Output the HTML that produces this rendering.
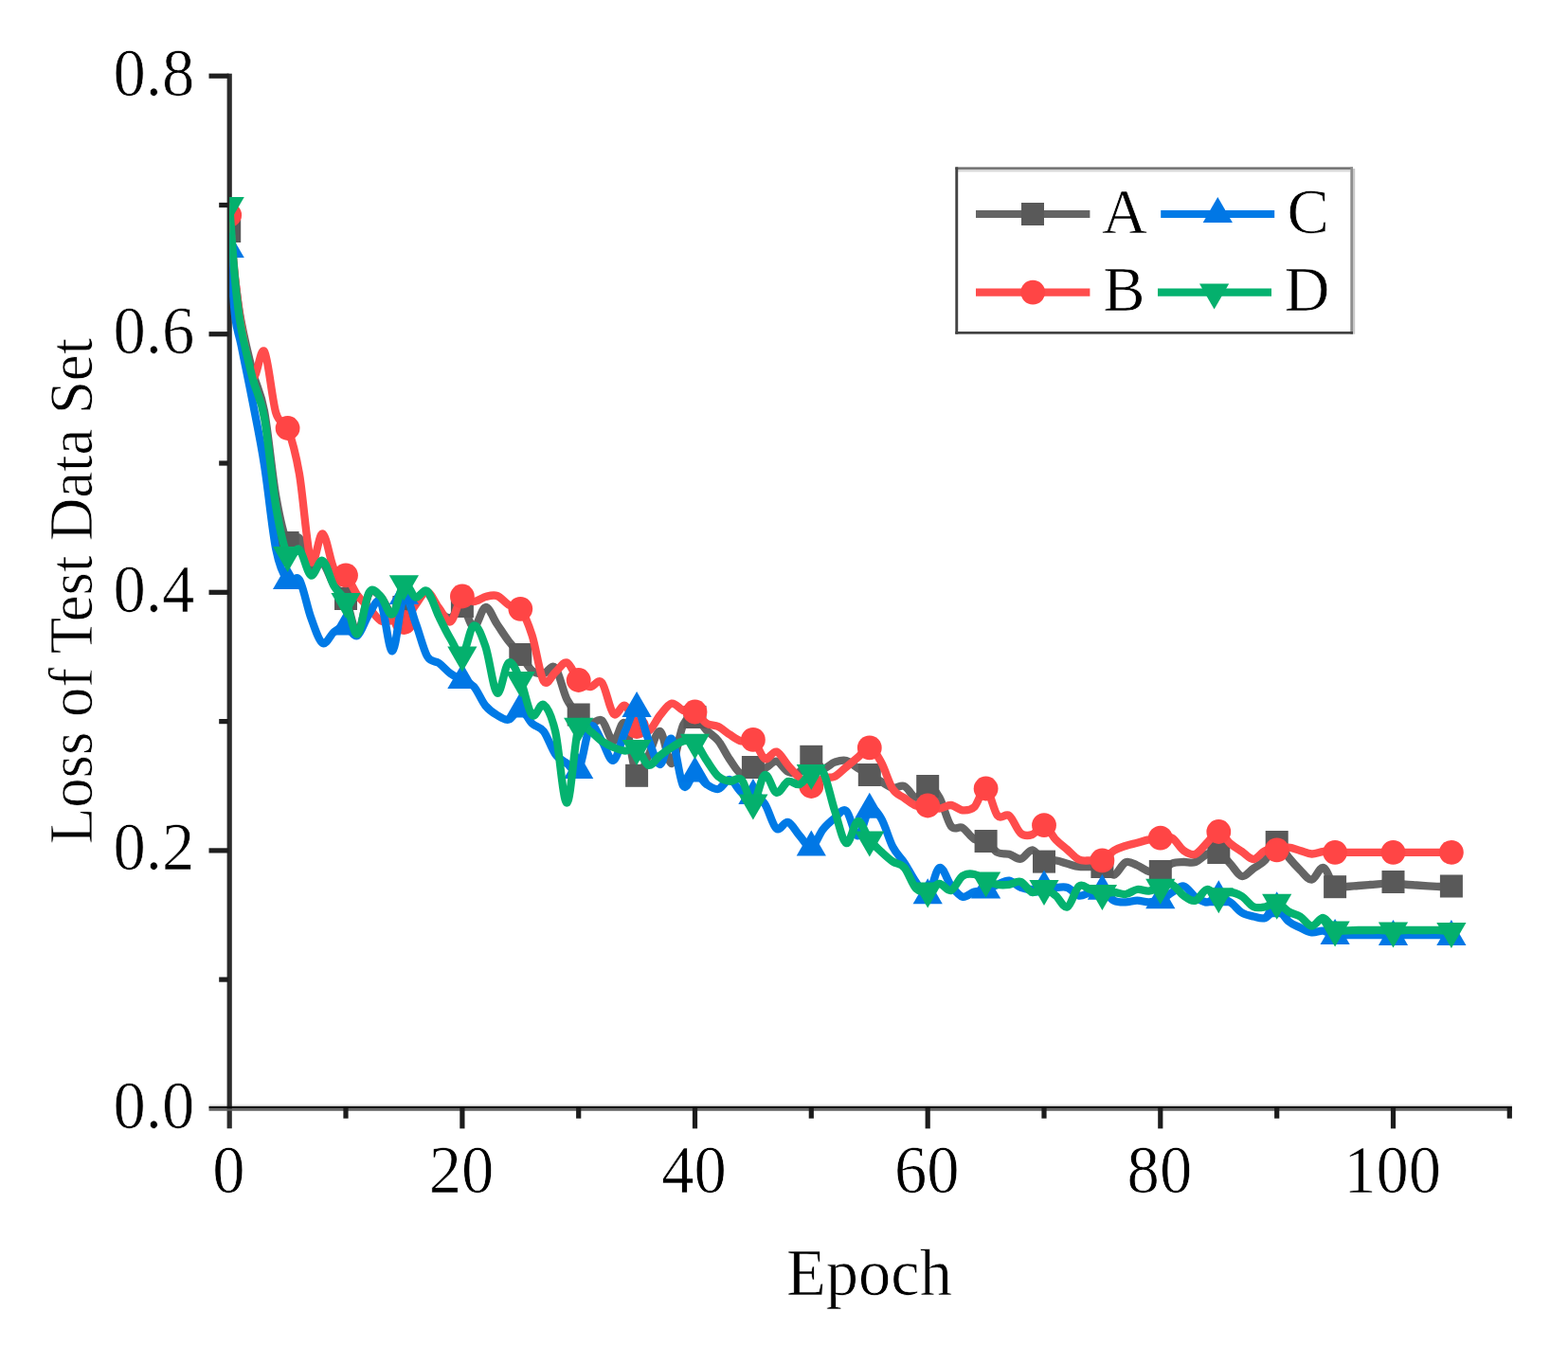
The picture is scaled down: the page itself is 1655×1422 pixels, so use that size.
<!DOCTYPE html><html><head><meta charset="utf-8"><title>Loss of Test Data Set</title>
<style>html,body{margin:0;padding:0;background:#fff}body{width:1655px;height:1422px;overflow:hidden}svg{display:block}text{font-family:"Liberation Serif",serif;fill:#000;stroke:#fff;stroke-width:0.7px;paint-order:fill stroke}</style></head><body>
<svg width="1655" height="1422" viewBox="0 0 1655 1422">
<rect width="1655" height="1422" fill="#fff"/>
<g fill="#2b2b2b">
<rect x="220.5" y="1165.6" width="1375.4" height="2.2" fill="#ededed"/>
<rect x="239.6" y="77.7" width="5.2" height="1113.6"/>
<rect x="220.5" y="1167.8" width="1375.4" height="2.6" fill="#0a0a0a"/>
<rect x="220.5" y="1170.4" width="1375.4" height="2.3" fill="#5c5c5c"/>
<rect x="231.2" y="1031.5" width="10" height="5.2" fill="#1e1e1e"/>
<rect x="220.5" y="895.3" width="21" height="5.2" fill="#1e1e1e"/>
<rect x="231.2" y="759" width="10" height="5.2" fill="#1e1e1e"/>
<rect x="220.5" y="622.7" width="21" height="5.2" fill="#1e1e1e"/>
<rect x="231.2" y="486.4" width="10" height="5.2" fill="#1e1e1e"/>
<rect x="220.5" y="350.1" width="21" height="5.2" fill="#1e1e1e"/>
<rect x="231.2" y="213.9" width="10" height="5.2" fill="#1e1e1e"/>
<rect x="220.5" y="77.6" width="21" height="5.2" fill="#1e1e1e"/>
<rect x="362.4" y="1170" width="5.2" height="10.7" fill="#1c1c1c"/>
<rect x="485.3" y="1170" width="5.2" height="21.4" fill="#1c1c1c"/>
<rect x="608.1" y="1170" width="5.2" height="10.7" fill="#1c1c1c"/>
<rect x="730.9" y="1170" width="5.2" height="21.4" fill="#1c1c1c"/>
<rect x="853.7" y="1170" width="5.2" height="10.7" fill="#1c1c1c"/>
<rect x="976.6" y="1170" width="5.2" height="21.4" fill="#1c1c1c"/>
<rect x="1099.4" y="1170" width="5.2" height="10.7" fill="#1c1c1c"/>
<rect x="1222.2" y="1170" width="5.2" height="21.4" fill="#1c1c1c"/>
<rect x="1345.1" y="1170" width="5.2" height="10.7" fill="#1c1c1c"/>
<rect x="1467.9" y="1170" width="5.2" height="21.4" fill="#1c1c1c"/>
<rect x="1590.7" y="1170" width="5.2" height="10.7" fill="#1c1c1c"/>
</g>
<svg x="242.2" y="60" width="1360" height="1110" viewBox="242.2 60 1360 1110" overflow="hidden">
<g><path d="M242.2 244C243.2 252.7 246.3 280.2 248.3 296C250.4 311.8 251.4 322.8 254.5 339C257.6 355.2 262.7 377.2 266.8 393C270.9 408.8 275 412.2 279 434C283.1 455.8 287.2 500.8 291.3 524C295.4 547.2 299.5 565.7 303.6 573C307.7 580.3 311.8 564 315.9 568C320 572 324.1 592.7 328.2 597C332.3 601.3 336.4 590.5 340.5 594C344.6 597.5 348.7 611.7 352.7 618C356.8 624.3 360.9 623.7 365 632C369.1 640.3 373.2 668.9 377.3 668C381.4 667.1 385.5 632.8 389.6 626.5C393.7 620.2 397.8 626.2 401.9 630C406 633.8 410.1 647.2 414.2 649C418.3 650.8 422.4 643.8 426.4 641C430.5 638.2 434.6 634.5 438.7 632C442.8 629.5 446.9 623.8 451 626C455.1 628.2 459.2 640.7 463.3 645C467.4 649.3 471.5 652.8 475.6 652C479.7 651.2 483.8 638.3 487.9 640C492 641.7 496 661.8 500.1 662C504.2 662.2 508.3 641.5 512.4 641C516.5 640.5 520.6 653 524.7 659C528.8 665 532.9 671.7 537 677C541.1 682.3 545.2 685.8 549.3 691C553.4 696.2 557.5 704.7 561.6 708C565.7 711.3 569.7 711.5 573.8 711C577.9 710.5 582 700.4 586.1 705C590.2 709.6 594.3 730.1 598.4 738.4C602.5 746.6 606.6 750.3 610.7 754.5C614.8 758.7 618.9 762.8 623 763.8C627.1 764.8 631.2 757.4 635.3 760.5C639.4 763.6 643.4 781.9 647.5 782.4C651.6 782.9 655.7 757.7 659.8 763.8C663.9 769.9 668 813.2 672.1 818.8C676.2 824.4 680.3 805.4 684.4 797.6C688.5 789.8 692.6 770.6 696.7 772C700.8 773.4 704.9 807.2 709 806C713 804.8 717.1 773.2 721.2 765C725.3 756.8 729.4 756 733.5 757C737.6 758 741.7 766.8 745.8 771C749.9 775.2 754 776.8 758.1 782C762.2 787.2 766.3 796.2 770.4 802C774.5 807.8 778.6 815.7 782.7 817C786.7 818.3 790.8 811 794.9 810C799 809 803.1 812 807.2 811C811.3 810 815.4 803.1 819.5 803.7C823.6 804.3 827.7 812.9 831.8 814.7C835.9 816.5 840 817.4 844.1 814.7C848.2 812.1 852.3 799.4 856.3 798.8C860.4 798.2 864.5 810 868.6 811C872.7 812 876.8 805.9 880.9 804.6C885 803.3 889.1 801.9 893.2 803C897.3 804.1 901.4 808.5 905.5 811C909.6 813.5 913.7 815.7 917.8 818C921.9 820.3 926 822.7 930 825C934.1 827.3 938.2 830.9 942.3 831.7C946.4 832.5 950.5 828.3 954.6 830C958.7 831.7 962.8 841.8 966.9 841.8C971 841.8 975.1 830 979.2 830C983.3 830 987.4 834.8 991.5 841.8C995.6 848.8 999.7 866.6 1003.7 872C1007.8 877.4 1011.9 871.7 1016 874C1020.1 876.3 1024.2 883.5 1028.3 885.8C1032.4 888.1 1036.5 885.6 1040.6 888C1044.7 890.4 1048.8 897.7 1052.9 900C1057 902.3 1061.1 900.6 1065.2 901.7C1069.3 902.8 1073.3 907.4 1077.4 906.7C1081.5 906 1085.6 896.9 1089.7 897.4C1093.8 897.9 1097.9 907.8 1102 909.6C1106.1 911.4 1110.2 908 1114.3 908.4C1118.4 908.8 1122.5 910.7 1126.6 911.8C1130.7 912.9 1134.8 914.5 1138.9 915C1143 915.5 1147 915 1151.1 915C1155.2 915 1159.3 913.6 1163.4 915C1167.5 916.4 1171.6 924.4 1175.7 923.6C1179.8 922.8 1183.9 912 1188 910.3C1192.1 908.6 1196.2 911.9 1200.3 913.5C1204.4 915.1 1208.5 918.9 1212.6 920C1216.7 921.1 1220.7 921.4 1224.8 920C1228.9 918.6 1233 913.2 1237.1 911.5C1241.2 909.8 1245.3 910.2 1249.4 910C1253.5 909.8 1257.6 911.4 1261.7 910C1265.8 908.6 1269.9 903.4 1274 901.7C1278.1 900 1282.2 898.3 1286.3 900C1290.3 901.7 1294.4 907.6 1298.5 911.8C1302.6 916 1306.7 924.2 1310.8 925C1314.9 925.8 1319 919.5 1323.1 916.7C1327.2 913.9 1331.3 912.6 1335.4 908C1339.5 903.4 1343.6 889.5 1347.7 889C1351.8 888.5 1355.9 900.1 1360 905C1364 909.9 1368.1 914.5 1372.2 918.4C1376.3 922.3 1380.4 929 1384.5 928.6C1388.6 928.2 1392.7 914.7 1396.8 916C1400.9 917.3 1405 932.9 1409.1 936.2C1413.2 939.5 1417.3 936.2 1421.4 936C1425.5 935.8 1429.6 935.3 1433.7 935C1437.7 934.7 1441.8 934.3 1445.9 934C1450 933.7 1454.1 933.5 1458.2 933C1462.3 932.5 1466.4 930.9 1470.5 931C1474.6 931.1 1478.7 933 1482.8 933.6C1486.9 934.2 1491 934.2 1495.1 934.5C1499.2 934.8 1503.3 935 1507.3 935.3C1511.4 935.5 1515.5 936 1519.6 936C1523.7 936 1529.9 935.6 1531.9 935.5" fill="none" stroke="#646464" stroke-width="8.3" stroke-linejoin="round" stroke-linecap="butt"/><rect x="230.2" y="232" width="24" height="24" fill="#595959"/><rect x="291.6" y="561" width="24" height="24" fill="#595959"/><rect x="353" y="620" width="24" height="24" fill="#595959"/><rect x="414.4" y="629" width="24" height="24" fill="#595959"/><rect x="475.9" y="628" width="24" height="24" fill="#595959"/><rect x="537.3" y="679" width="24" height="24" fill="#595959"/><rect x="598.7" y="742.5" width="24" height="24" fill="#595959"/><rect x="660.1" y="806.8" width="24" height="24" fill="#595959"/><rect x="721.5" y="745" width="24" height="24" fill="#595959"/><rect x="782.9" y="798" width="24" height="24" fill="#595959"/><rect x="844.3" y="786.8" width="24" height="24" fill="#595959"/><rect x="905.8" y="806" width="24" height="24" fill="#595959"/><rect x="967.2" y="818" width="24" height="24" fill="#595959"/><rect x="1028.6" y="876" width="24" height="24" fill="#595959"/><rect x="1090" y="897.6" width="24" height="24" fill="#595959"/><rect x="1151.4" y="903" width="24" height="24" fill="#595959"/><rect x="1212.8" y="908" width="24" height="24" fill="#595959"/><rect x="1274.3" y="888" width="24" height="24" fill="#595959"/><rect x="1335.7" y="877" width="24" height="24" fill="#595959"/><rect x="1397.1" y="924.2" width="24" height="24" fill="#595959"/><rect x="1458.5" y="919" width="24" height="24" fill="#595959"/><rect x="1519.9" y="923.5" width="24" height="24" fill="#595959"/></g>
<g><path d="M242.2 227C243.2 238.3 246.3 275.8 248.3 295C250.4 314.2 251.4 324.8 254.5 342C257.6 359.2 262.7 393.2 266.8 398C270.9 402.8 275 364.7 279 371C283.1 377.3 287.2 422.5 291.3 436C295.4 449.5 299.5 441.3 303.6 452C307.7 462.7 311.8 476.7 315.9 500C320 523.3 324.1 581.4 328.2 592C332.3 602.6 336.4 561.9 340.5 563.4C344.6 564.9 348.7 593.7 352.7 601C356.8 608.3 360.9 602.9 365 607.4C369.1 611.9 373.2 622.6 377.3 628.3C381.4 634 385.5 637.3 389.6 641.8C393.7 646.3 397.8 653 401.9 655.3C406 657.5 410.1 655 414.2 655.3C418.3 655.6 422.4 659.8 426.4 657C430.5 654.2 434.6 643.8 438.7 638.4C442.8 633 446.9 624.3 451 624.9C455.1 625.5 459.2 636.6 463.3 641.8C467.4 647 471.5 658.2 475.6 656.2C479.7 654.2 483.8 633 487.9 629.5C492 626 496 634.9 500.1 635C504.2 635.1 508.3 631 512.4 630C516.5 629 520.6 627.6 524.7 629C528.8 630.4 532.9 636.3 537 638.6C541.1 640.9 545.2 637.4 549.3 642.8C553.4 648.2 557.5 658.1 561.6 670.8C565.7 683.5 569.7 712.5 573.8 719C577.9 725.5 582 713 586.1 709.7C590.2 706.5 594.3 698.1 598.4 699.5C602.5 700.9 606.6 713.8 610.7 718C614.8 722.2 618.9 724.6 623 725C627.1 725.4 631.2 715.8 635.3 720.6C639.4 725.4 643.4 749.5 647.5 753.6C651.6 757.7 655.7 742.8 659.8 745C663.9 747.2 668 762.5 672.1 767C676.2 771.5 680.3 774 684.4 772C688.5 770 692.6 759.9 696.7 755C700.8 750.1 704.9 743.4 709 742.6C713 741.8 717.1 748.5 721.2 750C725.3 751.5 729.4 749.2 733.5 751.5C737.6 753.8 741.7 761.2 745.8 763.8C749.9 766.4 754 765 758.1 767C762.2 769 766.3 773 770.4 775.6C774.5 778.2 778.6 781.5 782.7 782.4C786.7 783.3 790.8 777.8 794.9 780.9C799 784 803.1 798.9 807.2 801C811.3 803.1 815.4 792.4 819.5 793.6C823.6 794.8 827.7 803.4 831.8 808C835.9 812.6 840 817.8 844.1 821.5C848.2 825.2 852.3 830 856.3 830C860.4 830 864.5 823.2 868.6 821.5C872.7 819.8 876.8 821.8 880.9 819.8C885 817.8 889.1 813.1 893.2 809.7C897.3 806.3 901.4 802.9 905.5 799.5C909.6 796.1 913.7 788.5 917.8 789.4C921.9 790.2 926 797.3 930 804.6C934.1 811.9 938.2 826.7 942.3 833C946.4 839.3 950.5 839.6 954.6 842.5C958.7 845.4 962.8 849.2 966.9 850.5C971 851.8 975.1 850 979.2 850.5C983.3 851 987.4 853.7 991.5 853.6C995.6 853.5 999.7 849.7 1003.7 850C1007.8 850.3 1011.9 855 1016 855.3C1020.1 855.6 1024.2 855.8 1028.3 852C1032.4 848.2 1036.5 831 1040.6 832.5C1044.7 834 1048.8 856.2 1052.9 861C1057 865.8 1061.1 857.9 1065.2 861C1069.3 864.1 1073.3 876.4 1077.4 879.7C1081.5 883 1085.6 882.4 1089.7 881C1093.8 879.6 1097.9 870.3 1102 871.2C1106.1 872.1 1110.2 882.1 1114.3 886.4C1118.4 890.7 1122.5 893.5 1126.6 897C1130.7 900.5 1134.8 905.6 1138.9 907.5C1143 909.4 1147 908.2 1151.1 908.4C1155.2 908.5 1159.3 910.1 1163.4 908.4C1167.5 906.7 1171.6 900.6 1175.7 898C1179.8 895.4 1183.9 894.4 1188 893C1192.1 891.6 1196.2 890.9 1200.3 889.8C1204.4 888.7 1208.5 887.2 1212.6 886.4C1216.7 885.5 1220.7 885 1224.8 884.7C1228.9 884.4 1233 882.5 1237.1 884.7C1241.2 886.9 1245.3 895.2 1249.4 898C1253.5 900.8 1257.6 903.1 1261.7 901.7C1265.8 900.3 1269.9 893.8 1274 889.8C1278.1 885.8 1282.2 877.9 1286.3 878C1290.3 878.1 1294.4 887 1298.5 890.5C1302.6 894 1306.7 896.2 1310.8 899C1314.9 901.8 1319 907.2 1323.1 907C1327.2 906.8 1331.3 899.6 1335.4 898C1339.5 896.4 1343.6 897.8 1347.7 897.3C1351.8 896.8 1355.9 894.6 1360 894.7C1364 894.8 1368.1 896.9 1372.2 898C1376.3 899.1 1380.4 901.3 1384.5 901.5C1388.6 901.7 1392.7 899.3 1396.8 899C1400.9 898.7 1405 899.7 1409.1 899.8C1413.2 899.9 1417.3 899.8 1421.4 899.8C1425.5 899.8 1429.6 899.8 1433.7 899.8C1437.7 899.8 1441.8 899.8 1445.9 899.8C1450 899.8 1454.1 899.8 1458.2 899.8C1462.3 899.8 1466.4 899.8 1470.5 899.8C1474.6 899.8 1478.7 899.8 1482.8 899.8C1486.9 899.8 1491 899.8 1495.1 899.8C1499.2 899.8 1503.3 899.8 1507.3 899.8C1511.4 899.8 1515.5 899.8 1519.6 899.8C1523.7 899.8 1529.9 899.8 1531.9 899.8" fill="none" stroke="#ff4c4c" stroke-width="8.3" stroke-linejoin="round" stroke-linecap="butt"/><circle cx="242.2" cy="227" r="12.9" fill="#ff4545"/><circle cx="303.6" cy="452" r="12.9" fill="#ff4545"/><circle cx="365" cy="607.4" r="12.9" fill="#ff4545"/><circle cx="426.4" cy="657" r="12.9" fill="#ff4545"/><circle cx="487.9" cy="629.5" r="12.9" fill="#ff4545"/><circle cx="549.3" cy="642.8" r="12.9" fill="#ff4545"/><circle cx="610.7" cy="718" r="12.9" fill="#ff4545"/><circle cx="672.1" cy="767" r="12.9" fill="#ff4545"/><circle cx="733.5" cy="751.5" r="12.9" fill="#ff4545"/><circle cx="794.9" cy="780.9" r="12.9" fill="#ff4545"/><circle cx="856.3" cy="830" r="12.9" fill="#ff4545"/><circle cx="917.8" cy="789.4" r="12.9" fill="#ff4545"/><circle cx="979.2" cy="850.5" r="12.9" fill="#ff4545"/><circle cx="1040.6" cy="832.5" r="12.9" fill="#ff4545"/><circle cx="1102" cy="871.2" r="12.9" fill="#ff4545"/><circle cx="1163.4" cy="908.4" r="12.9" fill="#ff4545"/><circle cx="1224.8" cy="884.7" r="12.9" fill="#ff4545"/><circle cx="1286.3" cy="878" r="12.9" fill="#ff4545"/><circle cx="1347.7" cy="897.3" r="12.9" fill="#ff4545"/><circle cx="1409.1" cy="899.8" r="12.9" fill="#ff4545"/><circle cx="1470.5" cy="899.8" r="12.9" fill="#ff4545"/><circle cx="1531.9" cy="899.8" r="12.9" fill="#ff4545"/></g>
<g><path d="M242.2 263C243.2 275 246.3 318.2 248.3 335C250.4 351.8 251.4 349 254.5 364C257.6 379 262.7 403.8 266.8 425C270.9 446.2 275 465.2 279 491C283.1 516.8 287.2 559.7 291.3 580C295.4 600.3 299.5 607.7 303.6 613C307.7 618.3 311.8 605.5 315.9 612C320 618.5 324.1 640.8 328.2 652C332.3 663.2 336.4 676.5 340.5 679C344.6 681.5 348.7 669.9 352.7 667C356.8 664.1 360.9 660.7 365 661.4C369.1 662.1 373.2 673.2 377.3 671C381.4 668.8 385.5 653.8 389.6 648C393.7 642.2 397.8 629.5 401.9 636C406 642.5 410.1 688.5 414.2 687.3C418.3 686.1 422.4 633.9 426.4 629C430.5 624.1 434.6 647 438.7 657.7C442.8 668.4 446.9 686 451 693C455.1 700 459.2 697 463.3 700C467.4 703 471.5 708.2 475.6 711.2C479.7 714.2 483.8 715.8 487.9 718C492 720.2 496 720.2 500.1 724.7C504.2 729.2 508.3 740 512.4 745C516.5 750 520.6 752.6 524.7 755C528.8 757.4 532.9 760.7 537 759.6C541.1 758.5 545.2 747.9 549.3 748.6C553.4 749.3 557.5 759.9 561.6 763.8C565.7 767.7 569.7 766.6 573.8 772C577.9 777.4 582 790.3 586.1 796C590.2 801.7 594.3 803.2 598.4 806C602.5 808.8 606.6 819.5 610.7 813C614.8 806.5 618.9 772.1 623 767C627.1 761.9 631.2 776.4 635.3 782.4C639.4 788.4 643.4 804.4 647.5 802.7C651.6 801 655.7 781.1 659.8 772C663.9 762.9 668 746.5 672.1 748C676.2 749.5 680.3 770.9 684.4 780.7C688.5 790.5 692.6 807.1 696.7 807C700.8 806.9 704.9 776.2 709 780C713 783.8 717.1 823.7 721.2 829.8C725.3 835.9 729.4 816.8 733.5 816.5C737.6 816.2 741.7 825.2 745.8 828C749.9 830.8 754 833.8 758.1 833C762.2 832.2 766.3 822.4 770.4 823C774.5 823.6 778.6 833.7 782.7 836.5C786.7 839.3 790.8 838 794.9 840C799 842 803.1 842.8 807.2 848.6C811.3 854.4 815.4 871.6 819.5 874.8C823.6 878 827.7 866.7 831.8 868C835.9 869.3 840 878 844.1 882.4C848.2 886.8 852.3 895.7 856.3 894.6C860.4 893.5 864.5 880.7 868.6 875.6C872.7 870.5 876.8 867.1 880.9 863.8C885 860.5 889.1 852.9 893.2 856C897.3 859.1 901.4 882.6 905.5 882.4C909.6 882.2 913.7 857.8 917.8 854.7C921.9 851.6 926 857.2 930 863.8C934.1 870.3 938.2 886.1 942.3 894C946.4 901.9 950.5 904.8 954.6 911C958.7 917.2 962.8 925.8 966.9 931.5C971 937.2 975.1 947.9 979.2 945.3C983.3 942.7 987.4 917.8 991.5 916C995.6 914.2 999.7 929.7 1003.7 934.8C1007.8 939.9 1011.9 945.6 1016 946.7C1020.1 947.8 1024.2 942.8 1028.3 941.6C1032.4 940.4 1036.5 940.8 1040.6 939.5C1044.7 938.2 1048.8 935.4 1052.9 933.8C1057 932.1 1061.1 929.1 1065.2 929.6C1069.3 930.1 1073.3 935.4 1077.4 937C1081.5 938.6 1085.6 939.1 1089.7 939C1093.8 938.9 1097.9 936.8 1102 936.5C1106.1 936.2 1110.2 936.9 1114.3 937C1118.4 937.1 1122.5 935.6 1126.6 937C1130.7 938.4 1134.8 944.8 1138.9 945.6C1143 946.4 1147 942.8 1151.1 942C1155.2 941.2 1159.3 939.2 1163.4 940.7C1167.5 942.2 1171.6 948.8 1175.7 950.7C1179.8 952.7 1183.9 952.4 1188 952.4C1192.1 952.4 1196.2 950.7 1200.3 950.7C1204.4 950.7 1208.5 952.5 1212.6 952.4C1216.7 952.3 1220.7 951.9 1224.8 950.2C1228.9 948.5 1233 944.5 1237.1 942C1241.2 939.5 1245.3 934.7 1249.4 935.5C1253.5 936.3 1257.6 944.2 1261.7 947C1265.8 949.8 1269.9 952.4 1274 952.4C1278.1 952.4 1282.2 947.3 1286.3 947.3C1290.3 947.3 1294.4 949.7 1298.5 952.4C1302.6 955.1 1306.7 961 1310.8 963.5C1314.9 966 1319 966.6 1323.1 967.5C1327.2 968.4 1331.3 970.4 1335.4 969C1339.5 967.6 1343.6 958.6 1347.7 959.2C1351.8 959.8 1355.9 969.2 1360 972.6C1364 976 1368.1 977.3 1372.2 979.3C1376.3 981.3 1380.4 983.8 1384.5 984.4C1388.6 985 1392.7 982.1 1396.8 982.7C1400.9 983.3 1405 987.2 1409.1 988C1413.2 988.8 1417.3 987.4 1421.4 987.2C1425.5 987 1429.6 987 1433.7 987C1437.7 987 1441.8 987 1445.9 987C1450 987 1454.1 986.9 1458.2 987.2C1462.3 987.5 1466.4 989 1470.5 989C1474.6 989 1478.7 987.5 1482.8 987.2C1486.9 986.9 1491 987 1495.1 987C1499.2 987 1503.3 987 1507.3 987C1511.4 987 1515.5 986.9 1519.6 987.2C1523.7 987.5 1529.9 988.7 1531.9 989" fill="none" stroke="#007ae6" stroke-width="8.3" stroke-linejoin="round" stroke-linecap="butt"/><path d="M242.2 245L257.8 272L226.6 272Z" fill="#0077e5"/><path d="M303.6 595L319.2 622L288 622Z" fill="#0077e5"/><path d="M365 643.4L380.6 670.4L349.4 670.4Z" fill="#0077e5"/><path d="M426.4 611L442 638L410.8 638Z" fill="#0077e5"/><path d="M487.9 700L503.5 727L472.3 727Z" fill="#0077e5"/><path d="M549.3 730.6L564.9 757.6L533.7 757.6Z" fill="#0077e5"/><path d="M610.7 795L626.3 822L595.1 822Z" fill="#0077e5"/><path d="M672.1 730L687.7 757L656.5 757Z" fill="#0077e5"/><path d="M733.5 798.5L749.1 825.5L717.9 825.5Z" fill="#0077e5"/><path d="M794.9 822L810.5 849L779.3 849Z" fill="#0077e5"/><path d="M856.3 876.6L871.9 903.6L840.7 903.6Z" fill="#0077e5"/><path d="M917.8 836.7L933.4 863.7L902.2 863.7Z" fill="#0077e5"/><path d="M979.2 927.3L994.8 954.3L963.6 954.3Z" fill="#0077e5"/><path d="M1040.6 921.5L1056.2 948.5L1025 948.5Z" fill="#0077e5"/><path d="M1102 918.5L1117.6 945.5L1086.4 945.5Z" fill="#0077e5"/><path d="M1163.4 922.7L1179 949.7L1147.8 949.7Z" fill="#0077e5"/><path d="M1224.8 932.2L1240.4 959.2L1209.2 959.2Z" fill="#0077e5"/><path d="M1286.3 929.3L1301.9 956.3L1270.7 956.3Z" fill="#0077e5"/><path d="M1347.7 941.2L1363.3 968.2L1332.1 968.2Z" fill="#0077e5"/><path d="M1409.1 970L1424.7 997L1393.5 997Z" fill="#0077e5"/><path d="M1470.5 971L1486.1 998L1454.9 998Z" fill="#0077e5"/><path d="M1531.9 971L1547.5 998L1516.3 998Z" fill="#0077e5"/></g>
<g><path d="M242.2 217C243.2 230.5 246.3 276.5 248.3 298C250.4 319.5 251.4 329 254.5 346C257.6 363 262.7 384.2 266.8 400C270.9 415.8 275 418.5 279 441C283.1 463.5 287.2 510.8 291.3 535C295.4 559.2 299.5 578.5 303.6 586C307.7 593.5 311.8 576.4 315.9 580C320 583.6 324.1 605.4 328.2 607.4C332.3 609.4 336.4 590 340.5 591.9C344.6 593.8 348.7 611.8 352.7 619C356.8 626.2 360.9 626.6 365 635C369.1 643.4 373.2 671.1 377.3 669.5C381.4 667.9 385.5 632.1 389.6 625.5C393.7 618.9 397.8 626 401.9 629.8C406 633.6 410.1 650.6 414.2 648.4C418.3 646.1 422.4 619.3 426.4 616.3C430.5 613.3 434.6 629.3 438.7 630.6C442.8 631.9 446.9 620.6 451 624C455.1 627.4 459.2 642.6 463.3 651C467.4 659.4 471.5 667.9 475.6 674.6C479.7 681.3 483.8 693.8 487.9 691.4C492 689 496 662 500.1 660.5C504.2 659 508.3 670.6 512.4 682.4C516.5 694.2 520.6 728.6 524.7 731.5C528.8 734.4 532.9 701.8 537 699.5C541.1 697.2 545.2 708.8 549.3 718C553.4 727.2 557.5 750.7 561.6 755C565.7 759.3 569.7 741.2 573.8 744C577.9 746.8 582 754.8 586.1 772C590.2 789.2 594.3 848.4 598.4 847.5C602.5 846.6 606.6 779.4 610.7 766.8C614.8 754.2 618.9 769.4 623 772C627.1 774.6 631.2 779.6 635.3 782.4C639.4 785.2 643.4 787.3 647.5 789C651.6 790.7 655.7 792.4 659.8 792.6C663.9 792.8 668 787.5 672.1 790C676.2 792.5 680.3 806.5 684.4 807.8C688.5 809.1 692.6 800.7 696.7 797.6C700.8 794.5 704.9 791.5 709 789C713 786.5 717.1 783.3 721.2 782.4C725.3 781.5 729.4 780.4 733.5 783.8C737.6 787.2 741.7 796.7 745.8 802.7C749.9 808.7 754 815.9 758.1 819.6C762.2 823.3 766.3 824.1 770.4 824.7C774.5 825.3 778.6 819.2 782.7 823C786.7 826.8 790.8 848.3 794.9 847.5C799 846.7 803.1 819.8 807.2 818C811.3 816.2 815.4 835.5 819.5 836.7C823.6 837.9 827.7 826.5 831.8 825C835.9 823.5 840 829.5 844.1 828C848.2 826.5 852.3 818.2 856.3 816C860.4 813.8 864.5 808.2 868.6 814.7C872.7 821.2 876.8 842.8 880.9 855.3C885 867.8 889.1 888 893.2 890C897.3 892 901.4 867.6 905.5 867C909.6 866.4 913.7 881.3 917.8 886.6C921.9 891.9 926 895.2 930 899C934.1 902.8 938.2 906.7 942.3 909.5C946.4 912.3 950.5 911.2 954.6 916C958.7 920.8 962.8 933.9 966.9 938C971 942.1 975.1 941.4 979.2 940.6C983.3 939.8 987.4 933.1 991.5 933C995.6 932.9 999.7 941.4 1003.7 940C1007.8 938.6 1011.9 927.5 1016 924.7C1020.1 921.9 1024.2 922.2 1028.3 923C1032.4 923.8 1036.5 927.7 1040.6 929.5C1044.7 931.3 1048.8 933.1 1052.9 933.8C1057 934.5 1061.1 934.3 1065.2 933.8C1069.3 933.3 1073.3 929.6 1077.4 931C1081.5 932.4 1085.6 940.8 1089.7 942C1093.8 943.2 1097.9 937.4 1102 938C1106.1 938.6 1110.2 942.4 1114.3 945.6C1118.4 948.9 1122.5 959.2 1126.6 957.5C1130.7 955.8 1134.8 938.6 1138.9 935.5C1143 932.4 1147 937.8 1151.1 939C1155.2 940.2 1159.3 942.5 1163.4 943C1167.5 943.5 1171.6 941.8 1175.7 942C1179.8 942.2 1183.9 944.5 1188 944C1192.1 943.5 1196.2 939.6 1200.3 939C1204.4 938.4 1208.5 941 1212.6 940.6C1216.7 940.2 1220.7 937.9 1224.8 936.8C1228.9 935.7 1233 932.3 1237.1 933.8C1241.2 935.3 1245.3 942.8 1249.4 945.6C1253.5 948.4 1257.6 951.8 1261.7 950.7C1265.8 949.6 1269.9 939.7 1274 939C1278.1 938.3 1282.2 945.8 1286.3 946.3C1290.3 946.8 1294.4 942 1298.5 942C1302.6 942 1306.7 943.8 1310.8 946.3C1314.9 948.8 1319 955.5 1323.1 957.3C1327.2 959.1 1331.3 958 1335.4 957.3C1339.5 956.5 1343.6 951.9 1347.7 952.8C1351.8 953.6 1355.9 959.9 1360 962.4C1364 964.9 1368.1 965 1372.2 967.5C1376.3 970 1380.4 977.4 1384.5 977.6C1388.6 977.9 1392.7 968.4 1396.8 969C1400.9 969.6 1405 979.3 1409.1 981.5C1413.2 983.7 1417.3 982.2 1421.4 982.3C1425.5 982.4 1429.6 982 1433.7 982C1437.7 982 1441.8 982 1445.9 982C1450 982 1454.1 981.9 1458.2 982C1462.3 982.1 1466.4 982.5 1470.5 982.5C1474.6 982.5 1478.7 982.1 1482.8 982C1486.9 981.9 1491 982 1495.1 982C1499.2 982 1503.3 982 1507.3 982C1511.4 982 1515.5 981.8 1519.6 982C1523.7 982.2 1529.9 982.8 1531.9 983" fill="none" stroke="#04b26f" stroke-width="8.3" stroke-linejoin="round" stroke-linecap="butt"/><path d="M242.2 235L257.8 208L226.6 208Z" fill="#04b06d"/><path d="M303.6 604L319.2 577L288 577Z" fill="#04b06d"/><path d="M365 653L380.6 626L349.4 626Z" fill="#04b06d"/><path d="M426.4 634.3L442 607.3L410.8 607.3Z" fill="#04b06d"/><path d="M487.9 709.4L503.5 682.4L472.3 682.4Z" fill="#04b06d"/><path d="M549.3 736L564.9 709L533.7 709Z" fill="#04b06d"/><path d="M610.7 784.8L626.3 757.8L595.1 757.8Z" fill="#04b06d"/><path d="M672.1 808L687.7 781L656.5 781Z" fill="#04b06d"/><path d="M733.5 801.8L749.1 774.8L717.9 774.8Z" fill="#04b06d"/><path d="M794.9 865.5L810.5 838.5L779.3 838.5Z" fill="#04b06d"/><path d="M856.3 834L871.9 807L840.7 807Z" fill="#04b06d"/><path d="M917.8 904.6L933.4 877.6L902.2 877.6Z" fill="#04b06d"/><path d="M979.2 958.6L994.8 931.6L963.6 931.6Z" fill="#04b06d"/><path d="M1040.6 947.5L1056.2 920.5L1025 920.5Z" fill="#04b06d"/><path d="M1102 956L1117.6 929L1086.4 929Z" fill="#04b06d"/><path d="M1163.4 961L1179 934L1147.8 934Z" fill="#04b06d"/><path d="M1224.8 954.8L1240.4 927.8L1209.2 927.8Z" fill="#04b06d"/><path d="M1286.3 964.3L1301.9 937.3L1270.7 937.3Z" fill="#04b06d"/><path d="M1347.7 970.8L1363.3 943.8L1332.1 943.8Z" fill="#04b06d"/><path d="M1409.1 999.5L1424.7 972.5L1393.5 972.5Z" fill="#04b06d"/><path d="M1470.5 1000.5L1486.1 973.5L1454.9 973.5Z" fill="#04b06d"/><path d="M1531.9 1001L1547.5 974L1516.3 974Z" fill="#04b06d"/></g>
</svg>
<text transform="translate(205.2 1190.8) scale(1 1.04)" font-size="68.6" text-anchor="end">0.0</text>
<text transform="translate(205.2 918.3) scale(1 1.04)" font-size="68.6" text-anchor="end">0.2</text>
<text transform="translate(205.2 645.7) scale(1 1.04)" font-size="68.6" text-anchor="end">0.4</text>
<text transform="translate(205.2 373.1) scale(1 1.04)" font-size="68.6" text-anchor="end">0.6</text>
<text transform="translate(205.2 100.6) scale(1 1.04)" font-size="68.6" text-anchor="end">0.8</text>
<text transform="translate(241.3 1258.7) scale(1 1.04)" font-size="68.6" text-anchor="middle">0</text>
<text transform="translate(487 1258.7) scale(1 1.04)" font-size="68.6" text-anchor="middle">20</text>
<text transform="translate(732.6 1258.7) scale(1 1.04)" font-size="68.6" text-anchor="middle">40</text>
<text transform="translate(978.3 1258.7) scale(1 1.04)" font-size="68.6" text-anchor="middle">60</text>
<text transform="translate(1223.9 1258.7) scale(1 1.04)" font-size="68.6" text-anchor="middle">80</text>
<text transform="translate(1469.6 1258.7) scale(1 1.04)" font-size="68.6" text-anchor="middle">100</text>
<text transform="translate(917.5 1367) scale(1 1.02)" font-size="68.5" text-anchor="middle">Epoch</text>
<text font-size="62.7" transform="translate(97.3 624) rotate(-90) scale(1 1.03)" text-anchor="middle">Loss of Test Data Set</text>
<rect x="1008.3" y="176.4" width="419.7" height="176.3" fill="#fff"/>
<rect x="1011" y="178.9" width="414.3" height="2.5" fill="#d8d8d8"/>
<rect x="1428" y="178" width="2.2" height="174.7" fill="#c8c8c8"/>
<rect x="1008.3" y="176.4" width="419.7" height="2.5" fill="#707070"/>
<rect x="1425.3" y="176.4" width="2.7" height="176.3" fill="#8e8e8e"/>
<rect x="1008.3" y="350" width="419.7" height="2.7" fill="#424242"/>
<rect x="1008.3" y="176.4" width="2.9" height="176.3" fill="#444444"/>
<path d="M1030 226H1150.4" stroke="#646464" stroke-width="8.2" stroke-linecap="butt" fill="none"/><rect x="1078" y="214" width="24" height="24" fill="#595959"/><text transform="translate(1163 245.7) scale(0.97 1.0)" font-size="68.5">A</text>
<path d="M1030 308.6H1150.4" stroke="#ff4c4c" stroke-width="8.2" stroke-linecap="butt" fill="none"/><circle cx="1090.2" cy="308.6" r="12.9" fill="#ff4545"/><text transform="translate(1164.3 328.3) scale(0.97 1.0)" font-size="68.5">B</text>
<path d="M1225.2 226H1345.2" stroke="#007ae6" stroke-width="8.2" stroke-linecap="butt" fill="none"/><path d="M1285.3 208L1300.9 235L1269.7 235Z" fill="#0077e5"/><text transform="translate(1358.6 245.7) scale(0.97 1.0)" font-size="68.5">C</text>
<path d="M1222 308.6H1342" stroke="#04b26f" stroke-width="8.2" stroke-linecap="butt" fill="none"/><path d="M1281.6 326.6L1297.2 299.6L1266 299.6Z" fill="#04b06d"/><text transform="translate(1355.5 328.3) scale(0.97 1.0)" font-size="68.5">D</text>
</svg></body></html>
